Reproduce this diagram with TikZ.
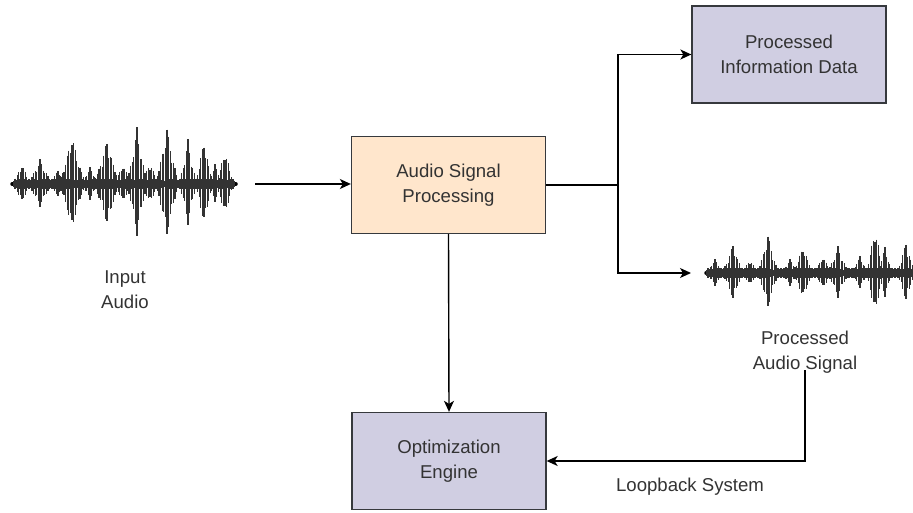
\documentclass[tikz,border=0pt]{standalone}
\usepackage{fontspec}
\setmainfont{Liberation Sans}
\usetikzlibrary{arrows.meta}
\definecolor{peach}{HTML}{FFE6CC}
\definecolor{lav}{HTML}{D0CEE2}
\definecolor{edge}{HTML}{36393D}
\definecolor{txt}{HTML}{333333}
\tikzset{
  box/.style={draw=edge, line width=1.3pt, minimum width=194pt, minimum height=97pt, align=center, text=txt, font=\fontsize{18.6}{25}\selectfont},
  lbl/.style={align=center, text=txt, font=\fontsize{18.6}{25}\selectfont},
  arr/.style={line width=1.4pt, -{Stealth[length=11pt,width=10pt,inset=3pt]}},
  wave/.style={line width=1.2pt, black!80},
}
\newcommand\wburst[4]{%
  \foreach \d in {-#4,...,#4} {
    \pgfmathsetmacro\h{#3*(1-abs(\d)/(#4+1))^1.4*(0.62+0.38*abs(sin(\d*137.5+mod(#2,50)*7)))+2}
    \pgfmathsetmacro\xx{#2+1.6*\d}
    \draw[wave] (\xx,#1-\h) -- (\xx,#1+0.92*\h);
  }}
\newcommand\wnoise[3]{%
  \foreach \x in {#2,...,#3} {
    \pgfmathsetmacro\h{2+3*abs(sin(mod(\x,97)*53.3))}
    \draw[wave] (\x,#1-\h) -- (\x,#1+\h);
  }}
\begin{document}
\begin{tikzpicture}[x=1pt,y=-1pt]
\useasboundingbox (0,0) rectangle (913,513);
% input waveform
\draw[line width=3.5pt, black, line cap=round] (12,184) -- (236,184);
\wnoise{184}{14}{234}
\foreach \cx/\A/\w in {22/18/5, 40/23/7, 58/12/5, 72/47/8, 90/15/5, 107/42/8, 123/18/5, 137/55/6, 150/20/5, 167/55/7, 188/43/5, 204/43/5, 215/18/4, 225/33/5}{\wburst{184}{\cx}{\A}{\w}}
% output waveform
\draw[line width=3.5pt, black, line cap=round] (706,273) -- (913,273);
\wnoise{273}{708}{911}
\foreach \cx/\A/\w in {715/12/5, 733/27/6, 750/12/4, 768/37/6, 790/12/5, 803/25/6, 823/15/5, 838/25/6, 860/15/5, 875/45/5, 885/25/4, 906/30/5}{\wburst{273}{\cx}{\A}{\w}}
% boxes
\node[box, fill=peach] (asp) at (448.5,185) {Audio Signal\\Processing};
\node[box, fill=lav] (pid) at (789,54.5) {Processed\\Information Data};
\node[box, fill=lav] (oe) at (449,461) {Optimization\\Engine};
% labels
\node[lbl] (inlbl) at (125,290) {Input\\Audio};
\node[lbl] (outlbl) at (805,352) {Processed\\Audio Signal};
\node[lbl] (looplbl) at (690,487) {Loopback System};
% coordinates
\coordinate (inend) at (255,184);
\coordinate (split) at (618,185);
\coordinate (outstart) at (691,273);
\coordinate (looptop) at (805,370);
% connectors
\draw[arr] (inend) -- (asp.west |- inend);
\draw[line width=1.4pt] (asp.east) -- (split);
\draw[arr] (split) |- (pid.west);
\draw[arr] (split) |- (outstart);
\draw[arr] (asp.south) -- (oe.north);
\draw[arr] (looptop) |- (oe.east);
\end{tikzpicture}
\end{document}
